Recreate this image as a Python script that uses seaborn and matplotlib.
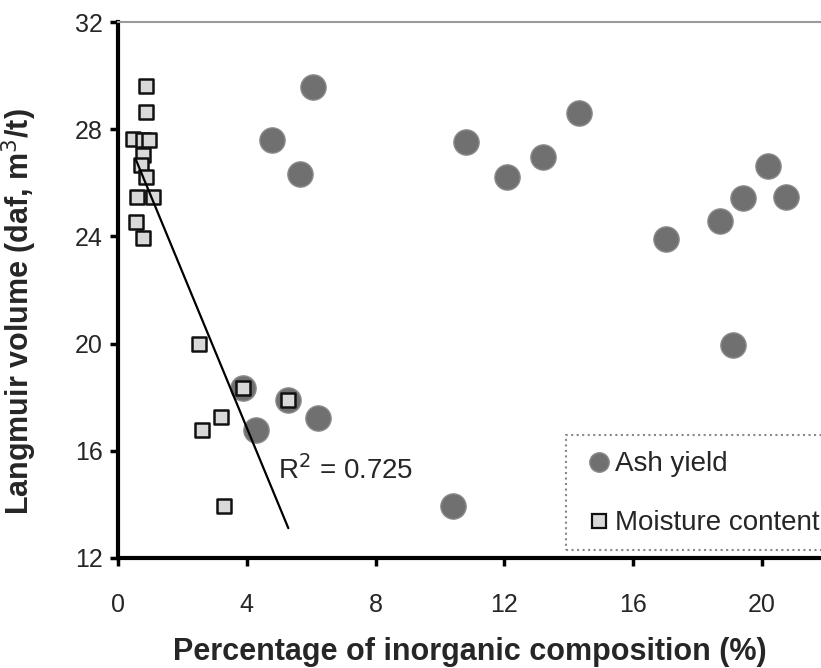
import numpy as np
import pandas as pd
import seaborn as sns
import matplotlib.pyplot as plt
from matplotlib.lines import Line2D
from matplotlib.patches import Rectangle

# Ash yield (%) vs Langmuir volume
ash_x = [4.78, 6.06, 5.65, 10.82, 12.09, 13.21, 14.33, 20.17, 19.42, 20.75,
         18.70, 17.01, 19.09, 10.40, 3.87, 5.29, 6.22, 4.29]
ash_y = [27.60, 29.57, 26.33, 27.53, 26.20, 26.97, 28.62, 26.63, 25.43, 25.48,
         24.56, 23.91, 19.94, 13.94, 18.33, 17.90, 17.24, 16.78]

# Moisture content (%) vs Langmuir volume
moist_x = [0.87, 0.87, 0.48, 0.79, 0.97, 0.77, 0.70, 0.87, 0.60, 1.08, 0.56, 0.79,
           3.87, 5.29, 3.19, 2.60, 3.29, 2.52]
moist_y = [29.61, 28.63, 27.62, 27.60, 27.60, 27.04, 26.66, 26.23, 25.48, 25.48, 24.55, 23.93,
           18.33, 17.90, 17.25, 16.78, 13.94, 20.00]

# Linear trend for moisture content
trend_slope = -2.905
trend_intercept = 28.48
trend_xrange = [0.56, 5.29]
r_squared = 0.725

x_ticks = [0, 4, 8, 12, 16, 20]
y_ticks = [12, 16, 20, 24, 28, 32]

sns.set_theme(style="white")
plt.rcParams['font.family'] = ['Liberation Sans', 'DejaVu Sans']

fig = plt.figure(figsize=(8.21, 6.68), dpi=100)
ax = fig.add_axes([0.1437, 0.1647, 0.8563, 0.8023])

ash_df = pd.DataFrame({"x": ash_x, "y": ash_y})
moist_df = pd.DataFrame({"x": moist_x, "y": moist_y})

sns.scatterplot(data=ash_df, x="x", y="y", ax=ax, marker="o", s=330,
                color="#707070", edgecolor="#8a8a8a", linewidth=1.0, zorder=3)
sns.scatterplot(data=moist_df, x="x", y="y", ax=ax, marker="s", s=95,
                color="#d9d9d9", edgecolor="#111111", linewidth=1.8, zorder=4)

tx = np.array(trend_xrange)
ax.plot(tx, trend_intercept + trend_slope * tx, color="black", lw=1.6, zorder=5)
ax.text(4.97, 15.3, f"R$^2$ = {r_squared}", fontsize=20, va="center", ha="left")

ax.set_xlim(0, 21.83)
ax.set_ylim(12, 32)
ax.set_xticks(x_ticks)
ax.set_yticks(y_ticks)
ax.tick_params(axis="both", labelsize=18, direction="out", length=6, width=2.5,
               color="black", left=True, bottom=True)
ax.tick_params(axis="x", pad=19)
ax.tick_params(axis="y", pad=5)

for side in ("left", "bottom"):
    ax.spines[side].set_linewidth(3)
    ax.spines[side].set_color("black")
ax.spines["top"].set_linewidth(1.5)
ax.spines["top"].set_color("#9a9a9a")
ax.spines["right"].set_visible(False)

ax.set_xlabel("Percentage of inorganic composition (%)", fontsize=22,
              fontweight="bold")
ax.set_ylabel("Langmuir volume (daf, m$^3$/t)", fontsize=22,
              fontweight="bold")
ax.xaxis.set_label_coords(0.5, -0.147)
ax.yaxis.set_label_coords(-0.112, 0.459)

# Dotted legend box, running past the right edge
ax.add_patch(Rectangle((0.637, 0.015), 0.45, 0.2146, transform=ax.transAxes,
                       facecolor="white", edgecolor="#888888", linestyle=":",
                       linewidth=1.5, clip_on=False, zorder=6))

handles = [
    Line2D([], [], marker="o", linestyle="none", markersize=14,
           markerfacecolor="#707070", markeredgecolor="#8a8a8a", label="Ash yield"),
    Line2D([], [], marker="s", linestyle="none", markersize=10,
           markerfacecolor="#d9d9d9", markeredgecolor="#111111", markeredgewidth=1.6,
           label="Moisture content"),
]
leg = ax.legend(handles=handles, loc="upper left", bbox_to_anchor=(0.637, 0.2295),
                fontsize=20, frameon=False, handletextpad=0.0,
                labelspacing=1.19, borderpad=0.59, handlelength=1.19, borderaxespad=0)
leg.set_zorder(7)

fig.savefig("out.png", dpi=100)
